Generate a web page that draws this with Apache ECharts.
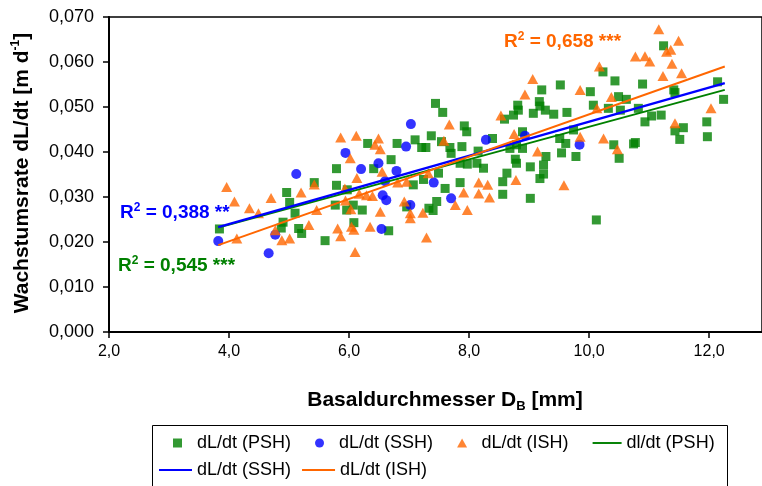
<!DOCTYPE html>
<html>
<head>
<meta charset="utf-8">
<script src="https://cdn.jsdelivr.net/npm/echarts@6/dist/echarts.min.js"></script>
<style>
  html, body { margin: 0; padding: 0; background: #fff; }
  #chart { width: 762px; height: 486px; }
</style>
</head>
<body>
<div id="chart"></div>
<script>
// Growth rate dL/dt [m/d] against basal diameter D_B [mm]
const pshPoints = [
  [3.84,0.0229],[4.96,0.0310],[5.01,0.0288],[5.10,0.0264],[4.90,0.0244],[4.87,0.0231],[5.16,0.0230],[5.21,0.0219],
  [5.42,0.0332],[5.60,0.0203],[5.77,0.0282],[5.79,0.0326],[5.97,0.0316],[5.96,0.0271],[6.07,0.0282],[6.22,0.0271],
  [6.08,0.0243],[6.66,0.0225],[5.79,0.0363],[6.41,0.0363],[6.31,0.0419],[6.80,0.0419],[6.70,0.0383],[7.44,0.0508],
  [7.56,0.0488],[7.92,0.0458],[7.96,0.0445],[7.37,0.0436],[7.54,0.0423],[7.10,0.0427],[7.21,0.0410],[7.28,0.0410],
  [7.68,0.0410],[7.70,0.0397],[7.88,0.0412],[8.39,0.0430],[8.89,0.0445],[8.79,0.0416],[8.89,0.0408],[8.68,0.0408],
  [9.28,0.0390],[8.15,0.0402],[8.77,0.0384],[8.79,0.0375],[9.24,0.0371],[8.81,0.0504],[8.82,0.0493],[9.17,0.0512],
  [9.18,0.0502],[8.74,0.0482],[8.59,0.0473],[9.07,0.0486],[9.27,0.0493],[9.21,0.0538],[9.52,0.0549],[10.02,0.0534],
  [10.23,0.0578],[10.43,0.0558],[10.89,0.0551],[11.24,0.0636],[11.41,0.0538],[11.43,0.0532],[12.14,0.0556],[12.24,0.0517],
  [10.49,0.0523],[10.62,0.0517],[10.07,0.0504],[10.52,0.0493],[10.32,0.0497],[10.82,0.0497],[9.63,0.0488],[9.41,0.0484],
  [11.04,0.0480],[11.20,0.0482],[10.93,0.0467],[11.96,0.0467],[11.57,0.0454],[11.43,0.0447],[11.97,0.0434],[11.51,0.0428],
  [10.41,0.0416],[10.74,0.0418],[10.77,0.0421],[10.50,0.0386],[9.51,0.0430],[9.61,0.0419],[9.54,0.0398],[9.78,0.0390],
  [9.74,0.0449],[9.24,0.0351],[9.18,0.0341],[9.02,0.0367],[8.56,0.0334],[8.63,0.0353],[8.56,0.0306],[9.02,0.0297],
  [7.85,0.0375],[7.97,0.0373],[8.13,0.0375],[8.24,0.0364],[7.85,0.0332],[7.60,0.0319],[7.24,0.0339],[7.07,0.0327],
  [7.49,0.0353],[7.46,0.0290],[7.33,0.0275],[7.40,0.0270],[6.96,0.0278],[10.12,0.0249]
];
const sshPoints = [
  [3.82,0.0202],[4.66,0.0175],[4.77,0.0216],[5.12,0.0351],[5.94,0.0398],[6.20,0.0362],[6.49,0.0375],[6.54,0.0229],
  [6.56,0.0304],[6.62,0.0293],[6.79,0.0358],[6.60,0.0335],[6.95,0.0412],[7.03,0.0462],[7.02,0.0282],[7.41,0.0332],
  [7.70,0.0297],[8.28,0.0427],[8.93,0.0436],[9.84,0.0416]
];
const ishPoints = [
  [3.96,0.0322],[4.09,0.0290],[4.34,0.0275],[4.49,0.0264],[4.13,0.0208],[4.70,0.0298],[4.77,0.0226],[4.88,0.0204],
  [5.01,0.0208],[5.20,0.0310],[5.33,0.0238],[5.46,0.0271],[5.42,0.0328],[5.81,0.0230],[5.86,0.0213],[5.93,0.0319],
  [5.94,0.0292],[6.03,0.0273],[6.04,0.0234],[6.08,0.0227],[6.10,0.0178],[6.35,0.0234],[6.17,0.0307],[6.29,0.0304],
  [6.39,0.0302],[6.13,0.0342],[5.86,0.0432],[6.12,0.0436],[6.49,0.0430],[6.43,0.0416],[6.52,0.0406],[6.02,0.0386],
  [6.55,0.0356],[6.52,0.0267],[6.81,0.0332],[6.96,0.0334],[6.92,0.0290],[7.02,0.0264],[7.02,0.0253],[7.23,0.0265],
  [7.29,0.0210],[7.32,0.0353],[7.77,0.0282],[7.91,0.0310],[7.97,0.0271],[8.16,0.0332],[8.31,0.0327],[8.16,0.0308],
  [8.34,0.0299],[8.78,0.0338],[9.58,0.0326],[7.67,0.0461],[7.58,0.0425],[8.75,0.0440],[9.14,0.0401],[8.53,0.0481],
  [8.93,0.0528],[9.06,0.0562],[9.85,0.0538],[10.17,0.0590],[10.37,0.0522],[10.13,0.0497],[9.85,0.0434],[10.24,0.0430],
  [10.47,0.0406],[10.77,0.0612],[10.93,0.0613],[11.01,0.0601],[11.16,0.0673],[11.49,0.0647],[11.29,0.0623],[11.36,0.0627],
  [11.38,0.0596],[11.23,0.0569],[11.54,0.0575],[11.43,0.0464],[12.03,0.0497]
];
// Linear trend lines (start and end of fitted range)
const pshTrend = [[3.82,0.0232],[12.26,0.0538]];
const sshTrend = [[3.82,0.0233],[12.26,0.0553]];
const ishTrend = [[3.82,0.0193],[12.26,0.0590]];

const r2Labels = [
  { value: '0,388', stars: '**',  color: '#0000ff' },
  { value: '0,545', stars: '***', color: '#008000' },
  { value: '0,658', stars: '***', color: '#ff6600' }
];

const xRange = { min: 2, max: 12.88, interval: 2 };
const yRange = { min: 0, max: 0.07, interval: 0.01 };

const FONT = '"Liberation Sans", Arial, sans-serif';
const GREEN = '#008000', BLUE = '#0000ff', ORANGE = '#ff6600';

// legend glyphs
const ICON_SQUARE = 'path://M0,0H8V8H0Z';
const ICON_TRIANGLE = 'path://M5,0L10,9H0Z';
const ICON_LINE = 'path://M0,0H30V2H0Z';

function r2Text(lbl) {
  const st = { fontFamily: FONT, fontWeight: 'bold', fill: lbl.color };
  return {
    text: '{a|R}{s|2}{a| = ' + lbl.value + ' ' + lbl.stars + '}',
    rich: {
      a: Object.assign({ fontSize: 19, lineHeight: 22 }, st),
      s: Object.assign({ fontSize: 12, lineHeight: 12, verticalAlign: 'top' }, st)
    },
    fill: lbl.color,
    verticalAlign: 'middle', textVerticalAlign: 'middle'
  };
}

const legendText = { color: '#000', fontSize: 18, fontFamily: FONT };

const chart = echarts.init(document.getElementById('chart'));
chart.setOption({
  animation: false,
  backgroundColor: '#fff',
  grid: { left: 109, right: 0, top: 17, bottom: 154, show: true, borderColor: '#000', borderWidth: 1.5 },
  xAxis: {
    type: 'value', min: xRange.min, max: xRange.max, interval: xRange.interval,
    axisLine: { onZero: false, lineStyle: { color: '#000', width: 2 } },
    axisTick: { length: 6, lineStyle: { color: '#000', width: 1.5 } },
    axisLabel: { color: '#000', fontSize: 16, fontFamily: FONT, margin: 12, showMaxLabel: false,
      formatter: v => (v > 12.5 ? '' : v.toFixed(1).replace('.', ',')) },
    splitLine: { show: false }
  },
  yAxis: {
    type: 'value', min: yRange.min, max: yRange.max, interval: yRange.interval,
    axisLine: { show: true, lineStyle: { color: '#000', width: 2 } },
    axisTick: { show: true, length: 6, lineStyle: { color: '#000', width: 1.5 } },
    axisLabel: { color: '#000', fontSize: 18, fontFamily: FONT, margin: 15,
      formatter: v => v.toFixed(3).replace('.', ',') },
    splitLine: { show: false }
  },
  legend: [
    {
      // first row
      left: 152, top: 425,
      padding: [9, 0, 0, 21],
      itemWidth: 29, itemHeight: 9, itemGap: 24,
      textStyle: legendText,
      formatter: n => n.trim(),
      data: [
        { name: 'dL/dt (PSH)', icon: ICON_SQUARE },
        { name: 'dL/dt (SSH)', icon: 'circle' },
        { name: 'dL/dt (ISH)', icon: ICON_TRIANGLE },
        { name: 'dl/dt (PSH)', icon: ICON_LINE }
      ]
    },
    {
      // second row
      left: 152, top: 461,
      padding: [0, 0, 0, 7],
      itemWidth: 33, itemHeight: 9, itemGap: 11,
      textStyle: legendText,
      formatter: n => n.trim(),
      data: [
        { name: 'dL/dt (SSH) ', icon: ICON_LINE },
        { name: 'dL/dt (ISH) ', icon: ICON_LINE }
      ]
    }
  ],
  series: [
    { name: 'dL/dt (PSH)', type: 'scatter', data: pshPoints, symbol: 'rect', symbolSize: 9,
      itemStyle: { color: GREEN }, z: 2 },
    { name: 'dL/dt (SSH)', type: 'scatter', data: sshPoints, symbol: 'circle', symbolSize: 10,
      itemStyle: { color: BLUE }, z: 3 },
    { name: 'dL/dt (ISH)', type: 'scatter', data: ishPoints, symbol: 'triangle', symbolSize: [11, 10],
      itemStyle: { color: ORANGE }, z: 4 },
    { name: 'dl/dt (PSH)', type: 'line', data: pshTrend, symbol: 'none', showSymbol: false,
      lineStyle: { color: GREEN, width: 2 }, itemStyle: { color: GREEN }, z: 5 },
    { name: 'dL/dt (SSH) ', type: 'line', data: sshTrend, symbol: 'none', showSymbol: false,
      lineStyle: { color: BLUE, width: 2.5 }, itemStyle: { color: BLUE }, z: 6 },
    { name: 'dL/dt (ISH) ', type: 'line', data: ishTrend, symbol: 'none', showSymbol: false,
      lineStyle: { color: ORANGE, width: 2 }, itemStyle: { color: ORANGE }, z: 7 }
  ],
  graphic: [
    // legend frame (runs past the lower edge)
    { type: 'rect', z: 1, shape: { x: 152.5, y: 425.5, width: 575, height: 80 },
      style: { fill: 'none', stroke: '#000', lineWidth: 1 } },
    { type: 'text', x: 120, y: 213, z: 10, style: r2Text(r2Labels[0]) },
    { type: 'text', x: 118, y: 266, z: 10, style: r2Text(r2Labels[1]) },
    { type: 'text', x: 504, y: 42, z: 10, style: r2Text(r2Labels[2]) },
    { type: 'text', x: 22, y: 173, rotation: Math.PI / 2, z: 10,
      style: {
        text: '{b|Wachstumsrate dL/dt [m d}{s|-1}{b|]}',
        rich: {
          b: { fontSize: 21, lineHeight: 25, fontWeight: 'bold', fontFamily: FONT, fill: '#000' },
          s: { fontSize: 12, lineHeight: 12, fontWeight: 'bold', fontFamily: FONT, fill: '#000', verticalAlign: 'top' }
        },
        align: 'center', textAlign: 'center', verticalAlign: 'middle', textVerticalAlign: 'middle'
      } },
    { type: 'text', x: 445, y: 400, z: 10,
      style: {
        text: '{b|Basaldurchmesser D}{s|B}{b| [mm]}',
        rich: {
          b: { fontSize: 21, lineHeight: 25, fontWeight: 'bold', fontFamily: FONT, fill: '#000' },
          s: { fontSize: 13, lineHeight: 13, fontWeight: 'bold', fontFamily: FONT, fill: '#000', verticalAlign: 'bottom' }
        },
        align: 'center', textAlign: 'center', verticalAlign: 'middle', textVerticalAlign: 'middle'
      } }
  ]
});
</script>
</body>
</html>
